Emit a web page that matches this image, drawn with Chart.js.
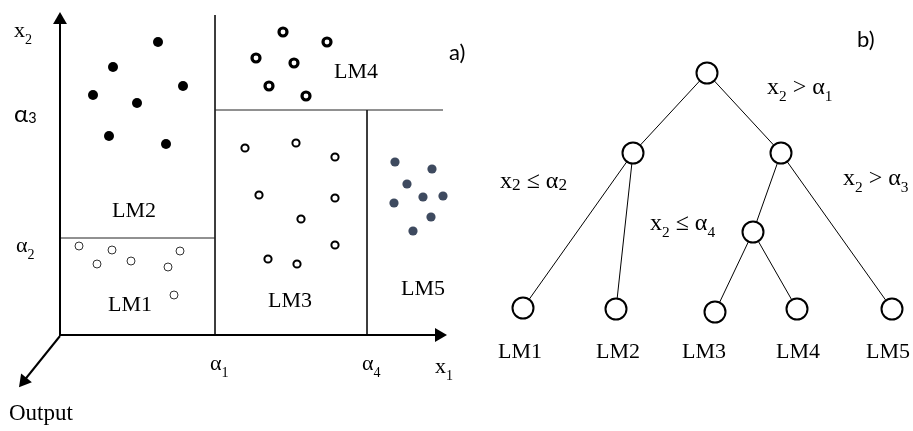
<!DOCTYPE html>
<html><head><meta charset="utf-8">
<script src="https://cdn.jsdelivr.net/npm/chart.js@4"></script>
<style>html,body{margin:0;padding:0;background:#fff}#wrap{width:913px;height:431px;position:relative}</style>
</head><body><div id="wrap"><canvas id="c"></canvas></div>
<script>
// ---- Panel a): samples in the (x1, x2) feature space, diagram units ----
const lm1Points = [[79,246],[112,250],[97,264],[131,261],[180,251],[168,267],[174,295]];
const lm2Points = [[158,42],[113,67],[183,86],[93,95],[137,103],[109,136],[166,144]];
const lm3Points = [[245,148],[296,143],[335,157],[259,195],[335,198],[301,219],[335,245],[268,259],[297,264]];
const lm4Points = [[283,32],[327,42],[256,58],[294,63],[269,86],[306,96]];
const lm5Points = [[395,162],[432,169],[407,184],[423,197],[443,196],[394,203],[431,217],[413,231]];
// split boundaries alpha1..alpha4 as segments [x1,y1,x2,y2]
const splitLines = [[215,15,215,335],[215,110,443,110],[367,110,367,335],[60,238,215,238]];
// axes (x2 up, x1 right, Output diagonal) and their arrow tips [x,y,rotationDeg]
const axisLines = [[60,336,60,18],[60,335,441,335],[60,336,23,382]];
const arrowTips = [[60,20,0],[439,335,90],[24,381,219]];

// ---- Panel b): regression tree ----
const treeNodes = {
  root:[707,73], n1:[633,153], n2:[781,153], n3:[753,232],
  LM1:[523,308], LM2:[616,309], LM3:[715,312], LM4:[797,309], LM5:[892,309]
};
const treeEdges = [['root','n1'],['root','n2'],['n1','LM1'],['n1','LM2'],['n2','n3'],['n2','LM5'],['n3','LM3'],['n3','LM4']];

// ---- Text labels ('_' = subscript next char, '~' = small next char) ----
const SERIF = '"Liberation Serif", "Times New Roman", serif';
const SANS = 'Lato, "Open Sans", sans-serif';
const labels = [
  {text:'x_2', x:14, y:37, size:22, font:SERIF},
  {text:'α^3', x:14, y:122, size:24, font:SANS},
  {text:'α_2', x:16, y:252, size:22, font:SERIF},
  {text:'α_1', x:210, y:370, size:22, font:SERIF},
  {text:'α_4', x:362, y:370, size:22, font:SERIF},
  {text:'x_1', x:435, y:373, size:22, font:SERIF},
  {text:'Output', x:9, y:420, size:23, font:SERIF},
  {text:'LM1', x:130, y:311, size:22, font:SERIF, align:'center'},
  {text:'LM2', x:134, y:217, size:22, font:SERIF, align:'center'},
  {text:'LM3', x:290, y:307, size:22, font:SERIF, align:'center'},
  {text:'LM4', x:356, y:78, size:22, font:SERIF, align:'center'},
  {text:'LM5', x:423, y:295, size:22, font:SERIF, align:'center'},
  {text:'a)', x:449, y:60, size:22, font:SANS},
  {text:'b)', x:857, y:47, size:22, font:SANS},
  {text:'x_2 > α_1', x:767, y:94, size:24, font:SERIF},
  {text:'x~2 ≤ α~2', x:500, y:188, size:24, font:SERIF},
  {text:'x_2 > α_3', x:843, y:185, size:24, font:SERIF},
  {text:'x_2 ≤ α_4', x:650, y:230, size:24, font:SERIF},
  {text:'LM1', x:520, y:358, size:22, font:SERIF, align:'center'},
  {text:'LM2', x:618, y:358, size:22, font:SERIF, align:'center'},
  {text:'LM3', x:704, y:358, size:22, font:SERIF, align:'center'},
  {text:'LM4', x:798, y:358, size:22, font:SERIF, align:'center'},
  {text:'LM5', x:888, y:358, size:22, font:SERIF, align:'center'}
];

const pts = a => a.map(p => ({x:p[0], y:p[1]}));
const seg = s => [{x:s[0],y:s[1]},{x:s[2],y:s[3]}];
const datasets = [];
const scatter = (data, o) => datasets.push(Object.assign({data:pts(data), showLine:false, order:0, clip:false}, o));
scatter(lm1Points, {pointRadius:4, borderWidth:1, borderColor:'#333', backgroundColor:'#fff'});
scatter(lm2Points, {pointRadius:5, borderWidth:0, borderColor:'#000', backgroundColor:'#000'});
scatter(lm3Points, {pointRadius:3.6, borderWidth:2, borderColor:'#000', backgroundColor:'#fff'});
scatter(lm4Points, {pointRadius:4, borderWidth:3.2, borderColor:'#000', backgroundColor:'#fff'});
scatter(lm5Points, {pointRadius:4.6, borderWidth:0, borderColor:'#3e4a5f', backgroundColor:'#3e4a5f'});
splitLines.forEach(s => datasets.push({data:seg(s), showLine:true, pointRadius:0, borderWidth:1, borderColor:'#222', order:5, clip:false}));
axisLines.forEach(s => datasets.push({data:seg(s), showLine:true, pointRadius:0, borderWidth:2, borderColor:'#000', order:4, clip:false}));
datasets.push({data:arrowTips.map(a=>({x:a[0],y:a[1]})), showLine:false, pointStyle:'triangle', pointRadius:8,
  rotation:arrowTips.map(a=>a[2]), backgroundColor:'#000', borderColor:'#000', borderWidth:0, order:3, clip:false});
treeEdges.forEach(e => {
  const a = treeNodes[e[0]], b = treeNodes[e[1]];
  datasets.push({data:[{x:a[0],y:a[1]},{x:b[0],y:b[1]}], showLine:true, pointRadius:0, borderWidth:1, borderColor:'#000', order:6, clip:false});
});
datasets.push({data:Object.values(treeNodes).map(p=>({x:p[0],y:p[1]})), showLine:false, pointRadius:10.5, borderWidth:2,
  borderColor:'#000', backgroundColor:'#fff', order:1, clip:false});

function parse(l){
  const out=[]; const s=l.text;
  for(let i=0;i<s.length;i++){
    let c=s[i];
    if(c==='_'){ out.push({t:s[++i], size:l.size*0.64, dy:l.size*0.3}); }
    else if(c==='~'){ out.push({t:s[++i], size:l.size*0.72, dy:l.size*0.08}); }
    else if(c==='^'){ out.push({t:s[++i], size:l.size*0.6, dy:l.size*0.04}); }
    else { const last=out[out.length-1];
      if(last && last.size===l.size) last.t+=c; else out.push({t:c, size:l.size, dy:0}); }
  }
  out.forEach(o=>o.font=o.size+'px '+l.font);
  return out;
}
const textPlugin = {
  id:'texts',
  afterDatasetsDraw(chart){
    const ctx=chart.ctx, xs=chart.scales.x, ys=chart.scales.y;
    labels.forEach(l=>{
      const segs=parse(l);
      ctx.save();
      ctx.fillStyle='#000'; ctx.textBaseline='alphabetic'; ctx.textAlign='left';
      let total=0; segs.forEach(s=>{ctx.font=s.font; s.w=ctx.measureText(s.t).width; total+=s.w;});
      let px=xs.getPixelForValue(l.x), py=ys.getPixelForValue(l.y);
      if(l.align==='center') px-=total/2;
      segs.forEach(s=>{ctx.font=s.font; ctx.fillText(s.t, px, py+s.dy); px+=s.w;});
      ctx.restore();
    });
  }
};

new Chart(document.getElementById('c'), {
  type:'scatter',
  data:{datasets},
  options:{
    responsive:true, maintainAspectRatio:false, animation:false,
    layout:{padding:0, autoPadding:false},
    plugins:{legend:{display:false}, tooltip:{enabled:false}},
    scales:{
      x:{type:'linear', min:0, max:913, display:false},
      y:{type:'linear', min:0, max:431, reverse:true, display:false}
    }
  },
  plugins:[textPlugin]
});
</script></body></html>
